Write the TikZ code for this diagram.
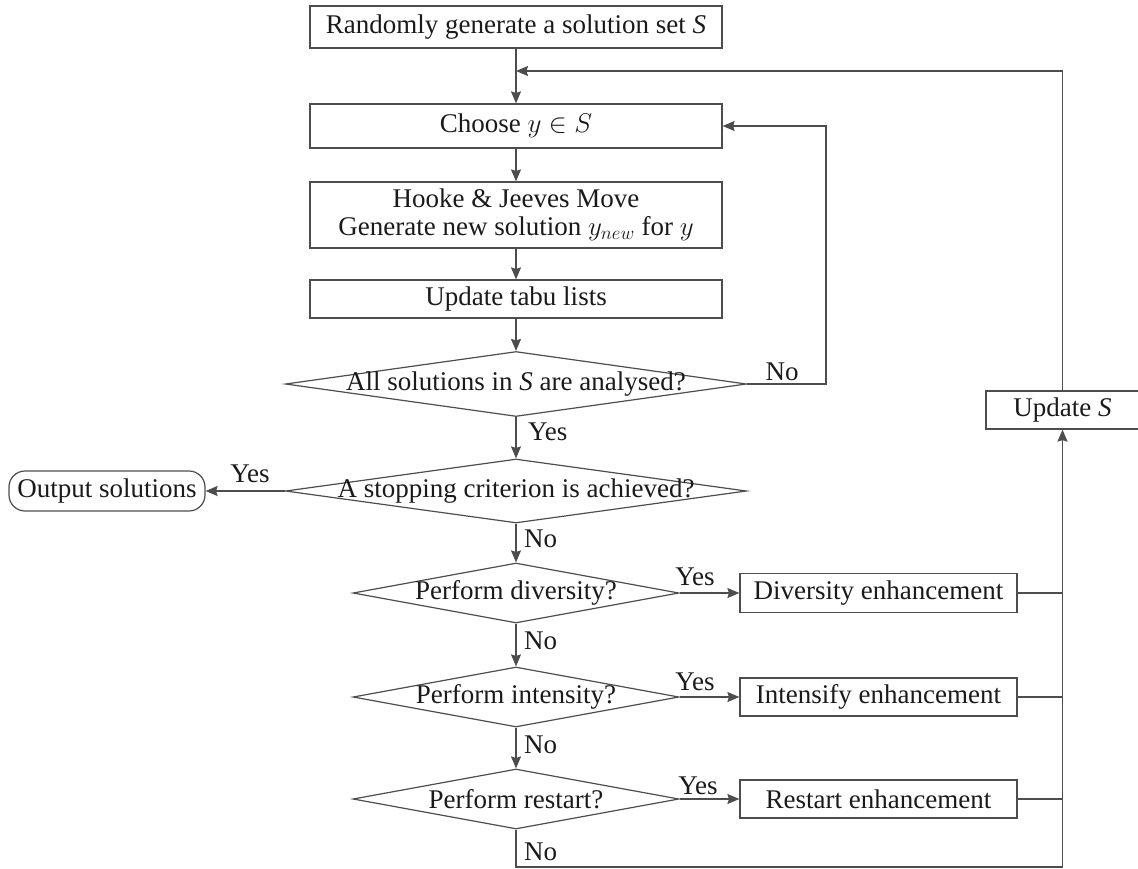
\RequirePackage{fix-cm}
\documentclass[tikz,border=0pt]{standalone}
\usepackage{fontspec}
\setmainfont{Liberation Serif}
\usetikzlibrary{shapes.geometric,arrows.meta}
\definecolor{ln}{HTML}{4D4D4D}
\definecolor{tx}{HTML}{1A1A1A}
\begin{document}
\begin{tikzpicture}[x=1pt,y=-1pt,
  font=\fontsize{27}{28}\selectfont, text=tx,
  mainbox/.style={draw=ln, line width=1.2pt, rectangle, minimum width=412pt, inner sep=0pt, align=center},
  sidebox/.style={draw=ln, line width=1.2pt, rectangle, minimum width=277pt, minimum height=39pt, inner sep=0pt},
  dia/.style={draw=ln, line width=1.2pt, diamond, inner sep=0pt, minimum width=#1},
  lbl/.style={inner sep=0pt},
  conn/.style={draw=ln, line width=1.5pt},
  arr/.style={conn, -{Stealth[length=12pt,width=10pt,inset=1.5pt]}}
]
\useasboundingbox (0,0) rectangle (1138,868);

% main column
\node[mainbox, minimum height=42pt] (b1) at (516,27) {Randomly generate a solution set \textit{S}};
\node[mainbox, minimum height=44pt] (b2) at (516,126) {Choose $y\in S$};
\node[mainbox, minimum height=66pt] (b3) at (516,215) {Hooke \& Jeeves Move\\Generate new solution $y_{new}$ for $y$};
\node[mainbox, minimum height=38pt] (b4) at (516,299) {Update tabu lists};

\node[dia=461pt, minimum height=65pt] (d1) at (516,384) {};
\node[lbl] (t1) at (d1.center) {All solutions in \textit{S} are analysed?};
\node[dia=461pt, minimum height=64pt] (d2) at (516,491) {};
\node[lbl] (t2) at (d2.center) {A stopping criterion is achieved?};
\node[dia=326pt, minimum height=60pt] (d3) at (516,593) {};
\node[lbl] (t3) at (d3.center) {Perform diversity?};
\node[dia=326pt, minimum height=60pt] (d4) at (516,697) {};
\node[lbl] (t4) at (d4.center) {Perform intensity?};
\node[dia=326pt, minimum height=60pt] (d5) at (516,799) {};
\node[lbl] (t5) at (d5.center) {Perform restart?};

\node[draw=ln, line width=1.2pt, rounded corners=16pt, minimum width=196pt, minimum height=40pt, inner sep=0pt] (out) at (107,491) {Output solutions};

\node[sidebox] (div) at (878.5,593) {Diversity enhancement};
\node[sidebox, minimum height=38pt] (int) at (878.5,697) {Intensify enhancement};
\node[sidebox, minimum height=38pt] (res) at (878.5,799) {Restart enhancement};

\node[draw=ln, line width=1.2pt, rectangle, minimum width=153pt, minimum height=38pt, inner sep=0pt] (upd) at (1062.5,410) {Update \textit{S}};

% coordinates
\coordinate (j1) at (516,71);
\coordinate (nr) at (826,126);
\coordinate (bl) at (516,867);

% connectors
\draw[arr] (b1.south) -- (b2.north);
\draw[arr] (upd.north) |- (j1);
\draw[arr] (b2.south) -- (b3.north);
\draw[arr] (b3.south) -- (b4.north);
\draw[arr] (b4.south) -- (d1.north);
\draw[arr] (d1.east) -| (nr) -- (b2.east);
\draw[arr] (d1.south) -- (d2.north);
\draw[arr] (d2.west) -- (out.east);
\draw[arr] (d2.south) -- (d3.north);
\draw[arr] (d3.south) -- (d4.north);
\draw[arr] (d4.south) -- (d5.north);
\draw[arr] (d3.east) -- (div.west);
\draw[arr] (d4.east) -- (int.west);
\draw[arr] (d5.east) -- (res.west);
\draw[conn] (div.east) -- (div.east -| upd.south);
\draw[conn] (int.east) -- (int.east -| upd.south);
\draw[conn] (res.east) -- (res.east -| upd.south);
\draw[arr] (d5.south) -- (bl) -| (upd.south);

% labels
\node[lbl] (l1) at (782,372) {No};
\node[lbl, anchor=west] (l2) at (528,432) {Yes};
\node[lbl] (l3) at (250,474) {Yes};
\node[lbl, anchor=west] (l4) at (524,539) {No};
\node[lbl, anchor=west] (l5) at (524,641) {No};
\node[lbl, anchor=west] (l6) at (524,745) {No};
\node[lbl, anchor=west] (l7) at (524,852) {No};
\node[lbl] (l8) at (695,577) {Yes};
\node[lbl] (l9) at (695,682) {Yes};
\node[lbl] (l10) at (698,786) {Yes};
\end{tikzpicture}
\end{document}
